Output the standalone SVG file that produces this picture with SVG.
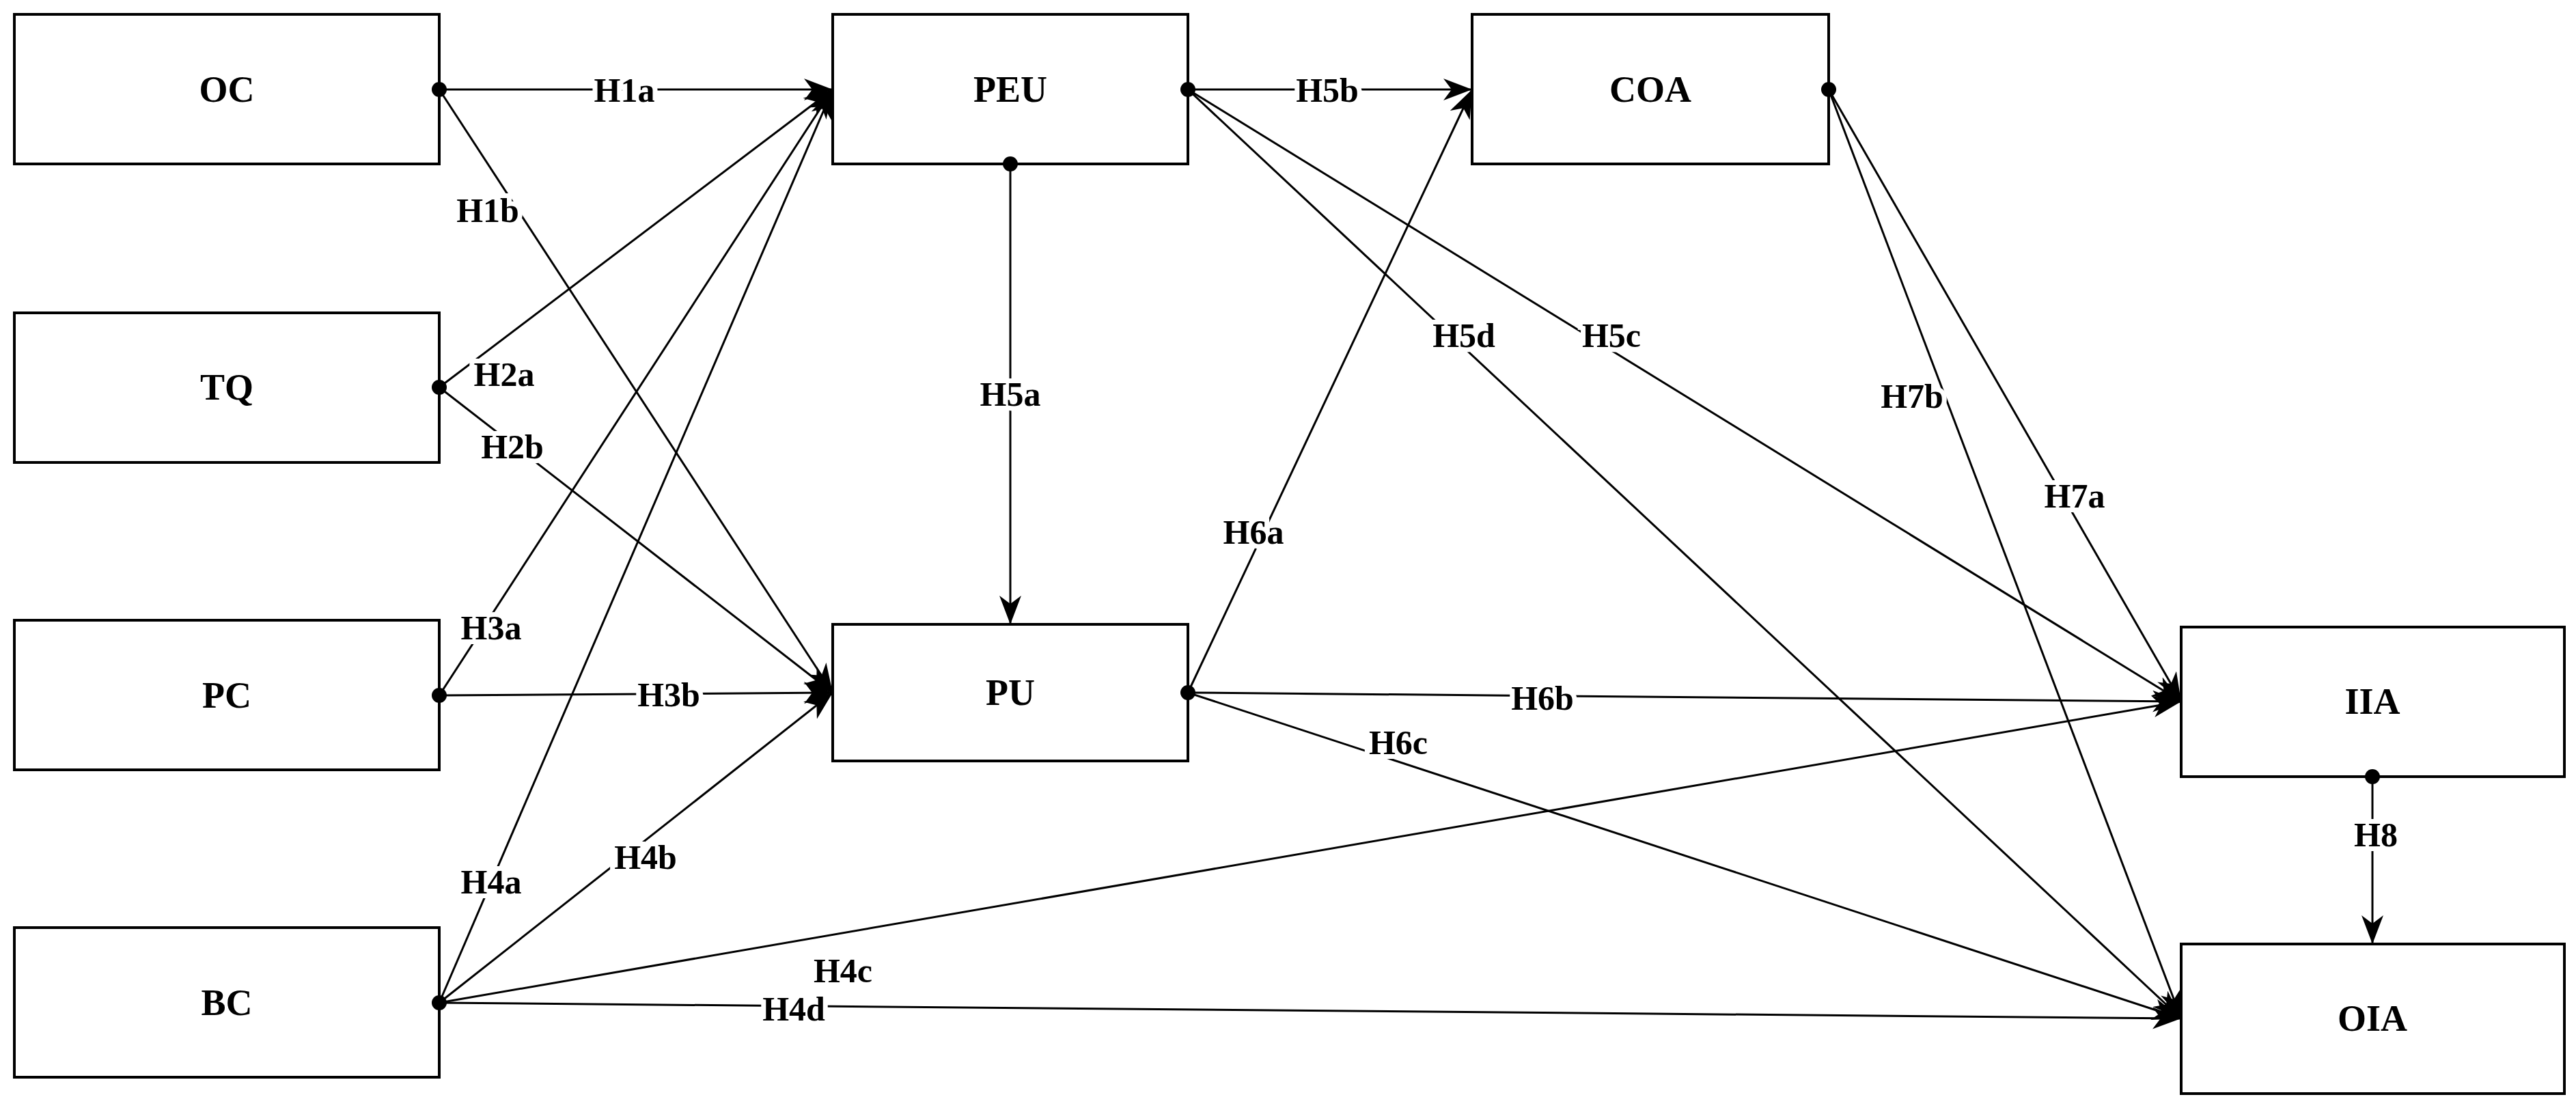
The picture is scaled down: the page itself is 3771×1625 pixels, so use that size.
<svg xmlns="http://www.w3.org/2000/svg" width="3771" height="1625" viewBox="0 0 3771 1625">
<style>
.box{fill:#fff;stroke:#000;stroke-width:4}
.nt{font-family:"Liberation Serif",serif;font-weight:bold;font-size:54px;text-anchor:middle;dominant-baseline:central}
.c{stroke:#000;stroke-width:3;fill:none;marker-end:url(#ah)}
.lb{font-family:"Liberation Serif",serif;font-weight:bold;font-size:50px;text-anchor:middle;dominant-baseline:central;stroke:#fff;stroke-width:14;paint-order:stroke;fill:#000}
</style>
<defs>
<marker id="ah" markerUnits="userSpaceOnUse" markerWidth="44" markerHeight="34" refX="42" refY="16" orient="auto">
<path d="M0,0 L42,16 L0,32 L12,16 z" fill="#000"/>
</marker>
</defs>
<rect width="3771" height="1625" fill="#fff"/>
<g id="OC"><rect class="box" x="21" y="21" width="622" height="219"/><text class="nt" x="332" y="131">OC</text></g>
<g id="TQ"><rect class="box" x="21" y="458" width="622" height="219"/><text class="nt" x="332" y="567">TQ</text></g>
<g id="PC"><rect class="box" x="21" y="908" width="622" height="219"/><text class="nt" x="332" y="1018">PC</text></g>
<g id="BC"><rect class="box" x="21" y="1358" width="622" height="219"/><text class="nt" x="332" y="1468">BC</text></g>
<g id="PEU"><rect class="box" x="1219" y="21" width="520" height="219"/><text class="nt" x="1479" y="131">PEU</text></g>
<g id="PU"><rect class="box" x="1219" y="914" width="520" height="200"/><text class="nt" x="1479" y="1014">PU</text></g>
<g id="COA"><rect class="box" x="2155" y="21" width="522" height="219"/><text class="nt" x="2416" y="131">COA</text></g>
<g id="IIA"><rect class="box" x="3193" y="918" width="561" height="219"/><text class="nt" x="3473" y="1027">IIA</text></g>
<g id="OIA"><rect class="box" x="3193" y="1382" width="561" height="219"/><text class="nt" x="3473" y="1491">OIA</text></g>
<g id="connectors">
<line class="c" x1="643" y1="131" x2="1219" y2="131"/>
<line class="c" x1="643" y1="131" x2="1219" y2="1014"/>
<line class="c" x1="643" y1="567" x2="1219" y2="131"/>
<line class="c" x1="643" y1="567" x2="1219" y2="1014"/>
<line class="c" x1="643" y1="1018" x2="1219" y2="131"/>
<line class="c" x1="643" y1="1018" x2="1219" y2="1014"/>
<line class="c" x1="643" y1="1468" x2="1219" y2="131"/>
<line class="c" x1="643" y1="1468" x2="1219" y2="1014"/>
<line class="c" x1="643" y1="1468" x2="3193" y2="1027"/>
<line class="c" x1="643" y1="1468" x2="3193" y2="1491"/>
<line class="c" x1="1479" y1="240" x2="1479" y2="914"/>
<line class="c" x1="1739" y1="131" x2="2155" y2="131"/>
<line class="c" x1="1739" y1="131" x2="3193" y2="1027"/>
<line class="c" x1="1739" y1="131" x2="3193" y2="1491"/>
<line class="c" x1="1739" y1="1014" x2="2155" y2="131"/>
<line class="c" x1="1739" y1="1014" x2="3193" y2="1027"/>
<line class="c" x1="1739" y1="1014" x2="3193" y2="1491"/>
<line class="c" x1="2677" y1="131" x2="3193" y2="1027"/>
<line class="c" x1="2677" y1="131" x2="3193" y2="1491"/>
<line class="c" x1="3473" y1="1137" x2="3473" y2="1382"/>
<g fill="#000">
<circle cx="643" cy="131" r="11"/><circle cx="643" cy="567" r="11"/><circle cx="643" cy="1018" r="11"/><circle cx="643" cy="1468" r="11"/>
<circle cx="1739" cy="131" r="11"/><circle cx="1479" cy="240" r="11"/><circle cx="1739" cy="1014" r="11"/><circle cx="2677" cy="131" r="11"/><circle cx="3473" cy="1137" r="11"/>
</g>
<text class="lb" x="914" y="132">H1a</text>
<text class="lb" x="714" y="308">H1b</text>
<text class="lb" x="738" y="548">H2a</text>
<text class="lb" x="750" y="654">H2b</text>
<text class="lb" x="719" y="919">H3a</text>
<text class="lb" x="979" y="1017">H3b</text>
<text class="lb" x="719" y="1291">H4a</text>
<text class="lb" x="945" y="1255">H4b</text>
<text class="lb" x="1234" y="1421">H4c</text>
<text class="lb" x="1162" y="1477">H4d</text>
<text class="lb" x="1479" y="577">H5a</text>
<text class="lb" x="1943" y="132">H5b</text>
<text class="lb" x="2359" y="491">H5c</text>
<text class="lb" x="2143" y="491">H5d</text>
<text class="lb" x="1835" y="779">H6a</text>
<text class="lb" x="2258" y="1022">H6b</text>
<text class="lb" x="2047" y="1087">H6c</text>
<text class="lb" x="2799" y="580">H7b</text>
<text class="lb" x="3037" y="726">H7a</text>
<text class="lb" x="3478" y="1222">H8</text>
</g>
</svg>
